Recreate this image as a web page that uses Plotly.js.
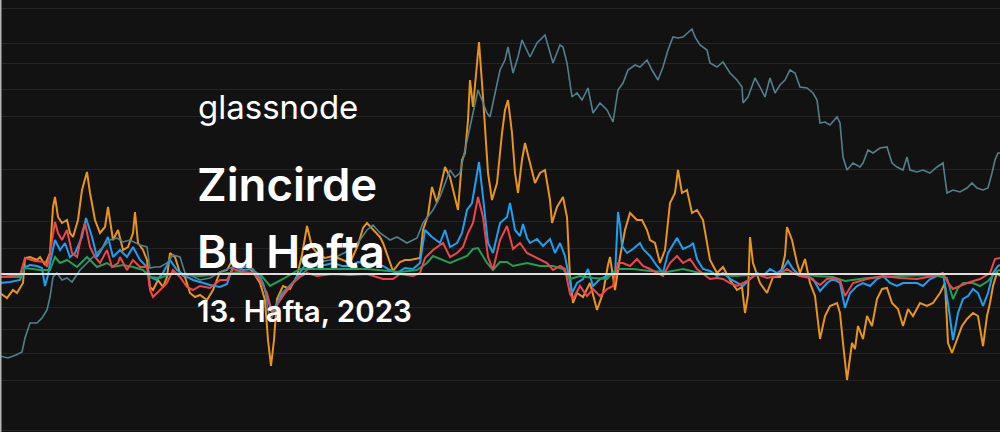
<!DOCTYPE html>
<html>
<head>
<meta charset="utf-8">
<script src="https://cdn.plot.ly/plotly-3.0.1.min.js"></script>
<style>
html,body{margin:0;padding:0;background:#121212;}
#chart{width:1000px;height:432px;}
</style>
</head>
<body>
<div id="chart"></div>
<script>
// time index (shared scale 0..1000)
const orangeT = [0,7,13,17,20,23,25,30,37,40,45,50,53,55,58,62,67,70,73,78,82,87,90,95,100,105,108,113,118,123,128,133,135,138,143,147,150,153,158,163,167,170,175,180,185,190,195,200,207,213,220,227,233,240,247,253,260,265,268,271,274,277,283,290,297,302,307,312,317,325,333,342,350,358,363,367,373,380,383,390,393,400,405,410,417,420,423,428,432,437,441,445,450,455,458,462,465,468,470,473,476,479,483,488,492,497,502,505,508,512,515,518,522,525,530,535,540,545,550,552,557,563,567,570,573,577,583,590,597,603,608,610,615,620,625,630,637,642,647,650,655,660,665,670,675,678,682,687,692,697,703,710,717,723,730,737,742,745,748,750,753,760,767,773,780,785,787,792,797,800,805,810,815,820,825,830,837,840,843,847,852,855,858,863,867,872,877,882,887,892,898,903,908,913,920,927,933,940,945,948,952,957,962,967,973,978,983,987,990,993,997,1000];
const orangeV = [-19,-24,-16,-19,-14,-9,16,17,14,17,9,21,67,77,57,51,54,41,37,54,84,102,81,54,41,47,67,34,44,24,27,41,62,31,24,14,-13,-16,-6,-13,-3,21,17,1,-3,-19,-23,-21,-26,-16,2,4,15,6,8,2,-9,-26,-66,-92,-66,-25,-12,-15,-2,19,48,27,21,16,18,14,11,29,46,51,45,37,31,11,3,12,14,14,15,16,44,59,87,71,89,107,97,77,64,114,121,154,194,167,204,232,177,101,74,91,141,164,174,141,101,81,114,131,111,91,101,104,74,51,67,77,57,-3,-29,-19,-23,-9,-36,-19,9,17,-16,17,44,61,54,54,44,34,31,11,24,71,81,104,81,84,61,64,54,14,1,7,-6,-16,-13,-39,-21,37,11,-9,-19,-3,-3,19,47,34,11,1,15,-9,-22,-65,-42,-32,-29,-39,-69,-106,-69,-75,-52,-65,-42,-52,-25,-15,-14,-29,-35,-52,-35,-42,-29,-32,-29,-19,-9,-69,-79,-65,-52,-45,-39,-42,-72,-42,-29,-12,1,-2];

const blueT = [0,10,20,25,30,37,42,45,48,50,55,60,65,70,75,82,86,92,97,103,108,113,120,127,133,140,147,150,157,163,170,177,187,193,200,210,220,227,233,243,253,263,268,272,276,283,293,300,307,317,325,333,342,350,358,367,375,383,390,397,405,413,420,425,432,440,445,450,457,462,467,472,477,479,483,488,493,500,507,510,515,520,523,527,530,537,543,550,555,560,565,568,572,577,583,588,593,600,607,612,615,618,620,622,627,633,640,643,650,657,663,668,673,677,683,690,693,697,703,710,717,723,730,737,743,750,757,763,770,777,783,788,793,800,807,813,820,827,833,840,845,850,857,863,870,877,883,890,897,903,910,917,923,930,937,943,948,953,958,963,968,973,978,983,988,993,998,1000];
const blueV = [-9,-8,-6,7,9,8,6,-12,-1,11,34,24,31,17,21,37,56,37,17,27,37,17,24,17,27,14,7,-3,-6,1,14,4,-3,-6,-8,-11,-13,-10,8,4,5,-9,-26,-38,-31,-19,-9,1,12,8,9,11,8,8,12,11,9,8,4,1,6,5,11,44,37,31,44,27,31,41,64,71,101,112,77,31,21,51,57,71,44,38,50,36,31,35,28,35,21,31,18,1,-19,-9,-5,5,-12,-5,-2,1,-2,62,49,28,21,25,31,25,18,8,1,21,29,36,25,28,31,15,5,3,-2,1,-5,-9,-12,-5,1,-2,5,1,5,13,5,-2,-2,-5,-17,-9,-5,-9,-34,-19,-12,-9,-12,-5,-2,-9,-12,-9,-9,-9,-12,-5,-2,0,-29,-66,-39,-25,-22,-15,-19,-32,-19,1,8,9];

const redT = [0,10,20,25,35,45,47,50,55,58,62,67,72,77,82,85,90,95,100,107,112,118,120,127,133,140,147,150,153,160,167,173,180,187,193,200,210,220,227,233,243,253,260,267,272,277,283,293,300,307,317,333,350,367,383,393,400,413,420,425,433,443,450,457,463,468,473,478,483,488,493,500,507,513,520,527,533,540,547,553,560,565,570,573,580,587,593,600,607,613,618,623,630,637,643,650,657,663,670,677,683,690,697,703,710,717,723,730,737,743,750,757,767,777,787,793,800,810,820,827,833,840,845,853,867,883,900,917,933,943,948,953,960,967,980,990,995,1000];
const redV = [-3,-2,-1,16,13,12,7,21,52,41,34,44,21,17,41,51,27,17,11,24,7,11,17,4,14,7,7,-16,-23,-16,-9,4,-3,-13,-16,-12,-14,-6,-6,5,2,1,-6,-19,-39,-31,-22,-9,-3,1,-2,0,-1,0,-5,-5,0,-2,1,16,24,31,17,21,27,41,51,77,57,17,4,34,48,25,31,21,18,15,11,4,8,5,-20,-25,-12,-22,-15,-22,-15,-12,11,11,8,15,8,5,1,-2,11,18,11,15,5,0,-5,-4,-5,-9,-12,-9,-5,0,-4,-2,5,1,-2,-4,-11,-5,-4,-6,-22,-9,-5,-2,-4,-5,-2,1,-9,-15,-12,-9,-5,1,15,16];

const greenT = [0,20,25,40,50,55,60,67,77,87,97,107,113,123,133,143,150,160,173,187,200,220,240,260,270,283,300,333,367,400,417,427,433,450,467,473,478,487,493,500,507,513,527,540,553,563,570,580,593,607,617,633,650,667,683,700,717,733,750,767,783,800,817,833,845,867,900,933,947,953,958,963,973,980,988,997,1000];
const greenV = [-3,-3,6,4,4,17,11,14,7,17,7,11,7,9,7,4,-3,-4,1,-1,-2,0,2,0,-12,-5,5,5,5,2,4,11,18,11,18,25,26,11,4,12,12,8,11,8,8,5,-5,-2,-4,-5,5,5,3,2,5,1,0,-2,-1,-1,1,0,-2,-3,-7,-4,-2,-1,-4,-25,-14,-9,-9,-12,-7,3,4];

const priceT = [0,8,16,22,25,30,37,42,47,50,53,57,62,67,72,80,90,100,110,117,123,130,140,147,150,155,160,167,173,180,185,190,200,210,220,230,240,250,260,265,270,275,280,290,300,310,320,330,340,350,360,367,373,380,390,397,407,417,423,428,433,440,447,450,455,460,465,470,475,478,482,487,490,495,500,505,508,513,518,522,530,537,545,553,560,563,567,572,577,582,588,593,600,607,613,618,623,628,635,640,647,652,658,663,668,673,678,683,688,692,695,700,707,710,717,723,730,737,742,743,748,755,760,765,770,775,780,785,790,795,800,807,813,817,820,825,830,837,840,843,847,853,860,863,868,873,880,887,892,897,903,907,910,917,923,930,937,943,947,953,960,967,972,977,983,988,992,995,998,1000];
const priceV = [76,74,77,80,94,109,109,114,122,135,155,159,152,154,150,162,172,182,192,194,190,192,187,185,164,165,165,169,177,175,159,157,152,154,160,164,167,164,157,142,110,122,137,147,157,164,170,172,177,182,192,202,207,199,192,195,189,194,209,215,222,235,255,262,255,259,282,305,325,342,332,319,315,339,362,372,385,359,375,392,375,389,397,369,387,385,369,335,339,332,344,319,329,322,310,342,349,362,367,365,372,362,352,365,382,395,394,395,399,403,395,387,382,369,365,370,359,352,345,329,335,354,345,335,354,339,347,352,362,359,345,344,339,332,309,310,307,315,309,275,262,269,265,269,282,279,284,285,269,265,262,275,262,260,262,259,265,269,239,242,240,244,249,244,242,244,259,272,279,279];

// gridline levels on the oscillator axis
const gridLevels = [266,231,211,185,158,105,53,26,-33,-55,-79,-106,-156];

function line(t, v, color, width, yaxis) {
  return {x: t, y: v, type: 'scatter', mode: 'lines', yaxis: yaxis,
          line: {color: color, width: width, shape: 'linear'}, hoverinfo: 'skip', showlegend: false};
}

const data = [
  line(priceT, priceV, '#52808d', 1.6, 'y2'),
  line(orangeT, orangeV, '#e8951c', 2, 'y'),
  line(blueT, blueV, '#1f9ff0', 2, 'y'),
  line(greenT, greenV, '#1fa055', 2, 'y'),
  line(redT, redV, '#f0464b', 2, 'y')
];

const txtFont = (size, weight) => ({family: 'Inter, "Noto Sans", sans-serif', size: size, color: '#ffffff', weight: weight});

const layout = {
  width: 1000, height: 432,
  margin: {l: 0, r: 0, t: 0, b: 0, pad: 0},
  paper_bgcolor: '#121212', plot_bgcolor: '#121212',
  showlegend: false,
  xaxis: {range: [0, 1000], visible: false, showgrid: false, zeroline: false, fixedrange: true},
  yaxis: {range: [-158, 274], showgrid: true, gridcolor: '#242424', gridwidth: 1,
          tickmode: 'array', tickvals: gridLevels, showticklabels: false, ticks: '',
          zeroline: false, showline: false, fixedrange: true},
  yaxis2: {range: [0, 432], overlaying: 'y', side: 'right', visible: false, showgrid: false, zeroline: false},
  shapes: [
    {type: 'line', xref: 'paper', yref: 'y', x0: 0, x1: 1, y0: 0, y1: 0, layer: 'above',
     line: {color: '#dedede', width: 2}},
    {type: 'line', xref: 'paper', yref: 'paper', x0: 0, x1: 0, y0: 0, y1: 1, layer: 'above',
     line: {color: '#b5b5b5', width: 3}}
  ],
  annotations: [
    {text: 'glassnode', xref: 'paper', yref: 'paper', x: 0.196, y: 0.752, xanchor: 'left', yanchor: 'middle',
     showarrow: false, font: txtFont(33, 400)},
    {text: 'Zincirde', xref: 'paper', yref: 'paper', x: 0.195, y: 0.572, xanchor: 'left', yanchor: 'middle',
     showarrow: false, font: txtFont(45.5, 600)},
    {text: 'Bu Hafta', xref: 'paper', yref: 'paper', x: 0.195, y: 0.417, xanchor: 'left', yanchor: 'middle',
     showarrow: false, font: txtFont(45.5, 600)},
    {text: '13. Hafta, 2023', xref: 'paper', yref: 'paper', x: 0.195, y: 0.281, xanchor: 'left', yanchor: 'middle',
     showarrow: false, font: txtFont(29.5, 600)}
  ]
};

Plotly.newPlot('chart', data, layout, {staticPlot: true, displayModeBar: false});
</script>
</body>
</html>
